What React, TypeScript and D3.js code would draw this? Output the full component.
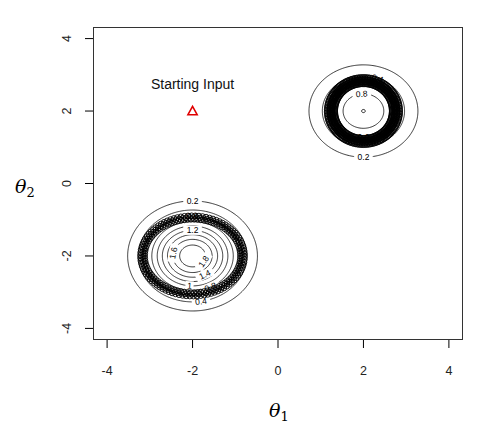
import React from 'react';
import * as d3 from 'd3';

// axis ranges and ticks
const xDomain = [-4.33, 4.33];
const yDomain = [-4.32, 4.32];
const xTicks = [-4, -2, 0, 2, 4];
const yTicks = [-4, -2, 0, 2, 4];

// mixture density (two bumps)
const modeX = [-2, 2];
const modeY = [-2, 2];
const modePeak = [1.97, 1.002];
const modeSpread = [0.71, 0.71];
const contourLevels = [0.2, 0.4, 0.6, 0.8, 1.0, 1.2, 1.4, 1.6, 1.8];

// contour labels: which level, which bump, angle (deg) on the circle
const labelLevel = [0.2, 0.4, 0.6, 0.8, 1.0, 1.2, 1.4, 1.6, 1.8, 0.2, 0.4, 0.6, 0.8];
const labelMode = [0, 0, 0, 0, 0, 0, 0, 0, 0, 1, 1, 1, 1];
const labelAngle = [90, -81, 90, -64, -95, 90, -61, 170, -30, -90, 70, -90, 95];

// particle rings
const ringX = [-2, 2];
const ringY = [-2, 2];
const ringRx = [1.17, 0.76];
const ringRy = [1.06, 0.84];
const ringLayers = [[-0.05, 0, 0.05], [-0.09, -0.03, 0.03, 0.09]];
const ringCount = [90, 140];

// starting point
const startX = -2;
const startY = 2;
const startLabel = 'Starting Input';

const W = 494;
const H = 442;
const left = 93, right = 463, top = 27, bottom = 340;

const density = (x: number, y: number) => {
  let v = 0;
  for (let k = 0; k < modeX.length; k++) {
    const d2 = (x - modeX[k]) ** 2 + (y - modeY[k]) ** 2;
    v += modePeak[k] * Math.exp(-d2 / (2 * modeSpread[k] ** 2));
  }
  return v;
};

const levelRadius = (level: number, k: number) =>
  Math.sqrt(2 * modeSpread[k] ** 2 * Math.log(modePeak[k] / level));

export default function App() {
  const x = d3.scaleLinear().domain(xDomain).range([left, right]);
  const y = d3.scaleLinear().domain(yDomain).range([bottom, top]);

  const n = 400, m = 400;
  const dx = (xDomain[1] - xDomain[0]) / (n - 1);
  const dy = (yDomain[1] - yDomain[0]) / (m - 1);
  const values = new Array(n * m);
  for (let j = 0; j < m; j++) {
    for (let i = 0; i < n; i++) {
      values[i + j * n] = density(xDomain[0] + i * dx, yDomain[0] + j * dy);
    }
  }
  const contours = d3.contours().size([n, m]).thresholds(contourLevels)(values);
  const path = d3.geoPath(
    d3.geoTransform({
      point(gx: number, gy: number) {
        this.stream.point(x(xDomain[0] + (gx - 0.5) * dx), y(yDomain[0] + (gy - 0.5) * dy));
      },
    })
  );

  const labels = labelLevel.map((lv, i) => {
    const k = labelMode[i];
    const r = levelRadius(lv, k);
    const a = (labelAngle[i] * Math.PI) / 180;
    const px = x(modeX[k] + r * Math.cos(a));
    const py = y(modeY[k] + r * Math.sin(a));
    const kx = x(1) - x(0);
    const ky = y(0) - y(1);
    let rot = (Math.atan2(-r * Math.cos(a) * ky, -r * Math.sin(a) * kx) * 180) / Math.PI;
    if (rot > 90) rot -= 180;
    if (rot <= -90) rot += 180;
    const text = lv === 1 ? '1' : String(lv);
    return { px, py, rot, text };
  });

  const points: { cx: number; cy: number }[] = [];
  ringX.forEach((cx, k) => {
    ringLayers[k].forEach((off, li) => {
      const cnt = ringCount[k];
      for (let p = 0; p < cnt; p++) {
        const a = ((p + li * 0.37) / cnt) * 2 * Math.PI;
        points.push({
          cx: x(cx + (ringRx[k] + off) * Math.cos(a)),
          cy: y(ringY[k] + (ringRy[k] + off) * Math.sin(a)),
        });
      }
    });
  });

  const sx = x(startX), sy = y(startY);
  const tri = 4.6;
  const font = "'Liberation Sans', Arial, sans-serif";

  return (
    <svg width={W} height={H} style={{ position: 'absolute', left: 0, top: 0, background: '#fff' }}>
      <defs>
        <mask id="gaps">
          <rect x={0} y={0} width={W} height={H} fill="#fff" />
          {labels.map((l, i) => (
            <rect key={i} x={-l.text.length * 2.6 - 1.5} y={-4.5} width={l.text.length * 5.2 + 3} height={9}
              fill="#000" transform={`translate(${l.px},${l.py}) rotate(${l.rot})`} />
          ))}
        </mask>
      </defs>

      <g mask="url(#gaps)">
        {contours.map((c, i) => (
          <path key={i} d={path(c) || ''} fill="none" stroke="#000" strokeWidth={0.8} />
        ))}
      </g>
      {labels.map((l, i) => (
        <text key={i} transform={`translate(${l.px},${l.py}) rotate(${l.rot})`} textAnchor="middle"
          dominantBaseline="central" fontFamily={font} fontSize={8.5} fill="#000">{l.text}</text>
      ))}

      {points.map((p, i) => (
        <circle key={i} cx={p.cx} cy={p.cy} r={2.8} fill="none" stroke="#000" strokeWidth={0.9} />
      ))}

      <path d={`M${sx},${sy - tri} L${sx + tri},${sy + tri * 0.8} L${sx - tri},${sy + tri * 0.8} Z`}
        fill="none" stroke="#e00000" strokeWidth={1.6} />
      <text x={sx} y={89} textAnchor="middle" fontFamily={font} fontSize={14} fill="#111">{startLabel}</text>

      <rect x={left + 0.5} y={top + 0.5} width={right - left - 1} height={bottom - top - 1} fill="none" stroke="#333" strokeWidth={1} />

      {xTicks.map((t) => (
        <g key={t}>
          <line x1={x(t)} x2={x(t)} y1={bottom} y2={bottom + 8} stroke="#000" />
          <text x={x(t)} y={375} textAnchor="middle" fontFamily={font} fontSize={12.5} fill="#222">{t}</text>
        </g>
      ))}
      {yTicks.map((t) => (
        <g key={t}>
          <line x1={left - 8} x2={left} y1={y(t)} y2={y(t)} stroke="#000" />
          <text transform={`translate(71,${y(t)}) rotate(-90)`} textAnchor="middle" fontFamily={font} fontSize={12.5} fill="#222">{t}</text>
        </g>
      ))}

      <text x={269} y={417} fontFamily="'DejaVu Serif', serif" fontStyle="italic" fontSize={19} fill="#000">
        θ<tspan fontStyle="normal" fontSize={13} dy={4}>1</tspan>
      </text>
      <text x={15} y={193} fontFamily="'DejaVu Serif', serif" fontStyle="italic" fontSize={19} fill="#000">
        θ<tspan fontStyle="normal" fontSize={13} dy={4}>2</tspan>
      </text>
    </svg>
  );
}
